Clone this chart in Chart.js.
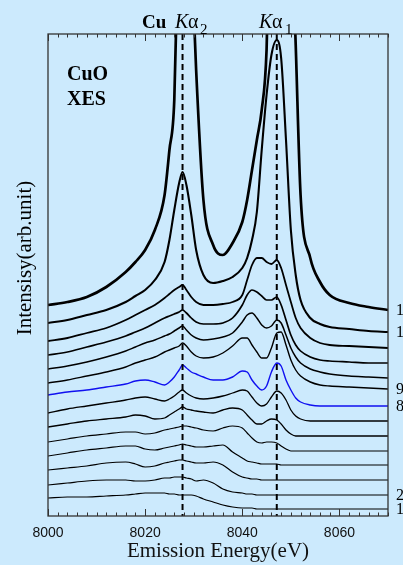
<!DOCTYPE html>
<html>
<head>
<meta charset="utf-8">
<script src="https://cdn.jsdelivr.net/npm/chart.js@4.4.1/dist/chart.umd.min.js"></script>
<style>
  html, body { margin: 0; padding: 0; background: #cceafd; }
  #wrap { width: 403px; height: 565px; }
</style>
</head>
<body>
<div id="wrap"><canvas id="xes" width="403" height="565"></canvas></div>
<script>
// emission energy grid (eV), shared by all spectra
const energy = [8000, 8004, 8008, 8012, 8016, 8018, 8020, 8022, 8024, 8025, 8026, 8027, 8027.7, 8028.5, 8029.5, 8030.5, 8032, 8034, 8036, 8038, 8040, 8041, 8042, 8043, 8044, 8045, 8046, 8047.1, 8048, 8049, 8050, 8051, 8052, 8054, 8056, 8058, 8062, 8066, 8070];

// stacked spectra, bottom (1) to top (14), intensity in arb. units incl. offset
const spec1  = [18, 19, 19, 20, 21, 22, 23, 23, 23, 22, 22, 21, 21, 21, 21, 20, 17, 14, 11, 9, 8, 8, 8, 7, 7, 7, 7, 7, 7, 7, 7, 7, 7, 7, 7, 7, 7, 7, 7];
const spec2  = [31, 33, 35, 36, 36, 35, 35, 36, 38, 38, 39, 39, 39, 38, 37, 35, 36, 33, 27, 24, 23, 22, 22, 21, 21, 21, 21, 21, 21, 21, 21, 21, 21, 21, 21, 21, 21, 21, 21];
const spec3  = [46, 48, 50, 53, 54, 52, 49, 50, 53, 54, 55, 56, 56, 55, 54, 53, 53, 54, 51, 44, 39, 38, 37, 37, 36, 36, 36, 36, 36, 36, 36, 36, 36, 36, 36, 36, 36, 36, 36];
const spec4  = [60, 63, 66, 68, 70, 70, 67, 66, 68, 69, 70, 71, 72, 71, 70, 69, 69, 70, 71, 64, 58, 55, 54, 53, 52, 52, 52, 52, 51, 51, 51, 51, 51, 51, 51, 51, 51, 51, 51];
const spec5  = [74, 77, 80, 82, 84, 84, 82, 83, 86, 87, 88, 89, 90, 90, 89, 88, 86, 85, 88, 90, 88, 83, 78, 74, 73, 74, 74, 73, 70, 67, 65, 65, 65, 65, 65, 65, 65, 65, 65];
const spec6  = [89, 92, 95, 97, 99, 101, 100, 97, 98, 101, 104, 107, 109, 107, 106, 105, 104, 103, 106, 108, 106, 101, 96, 92, 92, 95, 97, 96, 92, 86, 82, 80, 80, 80, 80, 80, 80, 80, 80];
const spec7  = [103, 107, 110, 113, 116, 118, 119, 117, 115, 117, 120, 124, 126, 123, 120, 118, 117, 118, 120, 123, 126, 125, 119, 113, 110, 112, 119, 125, 123, 116, 106, 100, 97, 95, 95, 95, 95, 95, 95];
const spec8  = [121, 124, 126, 129, 132, 135, 136, 134, 131, 134, 139, 146, 151, 148, 144, 142, 139, 136, 136, 139, 145, 144, 136, 130, 126, 130, 144, 153, 150, 136, 126, 118, 114, 111, 110, 110, 110, 110, 110];
const spec9  = [133, 136, 140, 144, 149, 153, 156, 159, 164, 166, 168, 170, 173, 170, 164, 160, 158, 159, 163, 170, 178, 178, 171, 164, 158, 158, 168, 183, 184, 171, 156, 146, 140, 134, 131, 130, 129, 128, 127];
const spec10 = [147, 150, 154, 159, 165, 169, 173, 176, 180, 182, 185, 188, 190, 186, 181, 178, 176, 177, 179, 183, 194, 201, 203, 198, 191, 188, 190, 196, 193, 181, 168, 159, 153, 147, 144, 142, 140, 139, 138];
const spec11 = [161, 164, 169, 174, 180, 184, 188, 193, 198, 200, 202, 204, 206, 203, 198, 194, 192, 192, 193, 198, 211, 221, 226, 224, 220, 216, 216, 219, 211, 196, 181, 171, 165, 159, 156, 155, 154, 153, 153];
const spec12 = [175, 178, 183, 188, 196, 201, 206, 211, 218, 222, 226, 229, 231, 226, 219, 214, 211, 211, 212, 214, 221, 236, 251, 258, 258, 254, 252, 256, 248, 231, 214, 198, 188, 178, 173, 171, 170, 169, 168];
const spec13 = [193, 196, 201, 206, 214, 220, 226, 236, 254, 276, 306, 333, 344, 331, 301, 266, 241, 233, 235, 239, 248, 258, 276, 304, 366, 421, 461, 476, 458, 376, 286, 241, 216, 198, 192, 189, 187, 185, 184];
const spec14 = [211, 214, 219, 229, 244, 254, 266, 286, 321, 366, 416, 616, 766, 666, 566, 446, 316, 271, 261, 273, 294, 316, 346, 376, 406, 466, 666, 1016, 916, 766, 616, 471, 321, 258, 234, 221, 213, 209, 206];

const spectra = [spec1, spec2, spec3, spec4, spec5, spec6, spec7, spec8, spec9, spec10, spec11, spec12, spec13, spec14];
const seriesNames = ["1", "2", "3", "4", "5", "6", "7", "8", "9", "10", "11", "12", "13", "14"];
const shownNames = ["1", "2", "8", "9", "13", "14"];
const lineEnergies = [8027.7, 8047.1];   // Cu Ka2, Ka1
const tickLabels = [8000, 8020, 8040, 8060];

// noisier top spectra look heavier in the original
const widths = [1.2, 1.2, 1.2, 1.2, 1.2, 1.3, 1.3, 1.4, 1.4, 1.5, 1.7, 1.8, 2.1, 2.7];

const datasets = spectra.map((vals, i) => ({
  label: seriesNames[i],
  data: energy.map((e, k) => ({ x: e, y: vals[k] })),
  borderColor: i === 7 ? "#1010f0" : "#000000",
  borderWidth: widths[i],
  pointRadius: 0,
  fill: false,
  cubicInterpolationMode: "monotone"
}));

const decor = {
  id: "decor",
  afterDatasetsDraw(chart) {
    const { ctx, chartArea: a, scales: { x } } = chart;
    ctx.save();
    // dashed Ka lines
    ctx.strokeStyle = "#000";
    ctx.lineWidth = 2;
    ctx.setLineDash([6, 4]);
    lineEnergies.forEach(e => {
      const px = x.getPixelForValue(e);
      ctx.beginPath();
      ctx.moveTo(px, a.top);
      ctx.lineTo(px, a.bottom);
      ctx.stroke();
    });
    ctx.setLineDash([]);
    // frame
    ctx.strokeStyle = "#333";
    ctx.lineWidth = 1.3;
    ctx.strokeRect(a.left, a.top, a.right - a.left, a.bottom - a.top);
    // inward ticks top and bottom
    ctx.lineWidth = 1;
    for (let e = 8000; e <= 8070; e += 2) {
      const px = Math.round(x.getPixelForValue(e)) + 0.5;
      const len = e % 20 === 0 ? 7 : 3.5;
      ctx.beginPath();
      ctx.moveTo(px, a.bottom);
      ctx.lineTo(px, a.bottom - len);
      ctx.moveTo(px, a.top);
      ctx.lineTo(px, a.top + len);
      ctx.stroke();
    }
    ctx.restore();
  },
  afterDraw(chart) {
    const { ctx, scales: { y } } = chart;
    ctx.save();
    ctx.fillStyle = "#000";
    ctx.textBaseline = "alphabetic";
    // peak labels
    ctx.font = 'bold 19px "Liberation Serif"';
    ctx.fillText("Cu", 142, 28);
    ctx.font = 'italic 20px "Liberation Serif"';
    ctx.fillText("K", 175, 28);
    ctx.font = '20px "Liberation Serif"';
    ctx.fillText("\u03b1", 188, 28);
    ctx.font = '15px "Liberation Serif"';
    ctx.fillText("2", 200, 34);
    ctx.font = 'italic 20px "Liberation Serif"';
    ctx.fillText("K", 259, 28);
    ctx.font = '20px "Liberation Serif"';
    ctx.fillText("\u03b1", 272, 28);
    ctx.font = '15px "Liberation Serif"';
    ctx.fillText("1", 285, 34);
    // sample label
    ctx.font = 'bold 20px "Liberation Serif"';
    ctx.fillText("CuO", 67, 80);
    ctx.fillText("XES", 67, 105);
    // spectrum numbers at right edge
    ctx.font = '16px "Liberation Serif"';
    ctx.textBaseline = "middle";
    spectra.forEach((vals, i) => {
      if (!shownNames.includes(seriesNames[i])) return;
      ctx.fillText(seriesNames[i], 396, y.getPixelForValue(vals[vals.length - 1]) + 1);
    });
    // y title
    ctx.translate(25, 258);
    ctx.rotate(-Math.PI / 2);
    ctx.textAlign = "center";
    ctx.font = '21px "Liberation Serif"';
    ctx.fillText("Intensisy(arb.unit)", 0, 0);
    ctx.restore();
  }
};

new Chart(document.getElementById("xes").getContext("2d"), {
  type: "line",
  data: { datasets },
  options: {
    responsive: false,
    animation: false,
    devicePixelRatio: 1,
    layout: { padding: { left: 48, right: 15, top: 34, bottom: 3.5 } },
    plugins: { legend: { display: false }, tooltip: { enabled: false } },
    scales: {
      x: {
        type: "linear",
        min: 8000,
        max: 8070,
        grid: { display: false, drawTicks: false, tickLength: 0 },
        border: { display: false },
        afterBuildTicks: axis => { axis.ticks = tickLabels.map(v => ({ value: v })); },
        ticks: {
          color: "#111",
          padding: 10,
          maxRotation: 0,
          callback: v => String(v),
          font: { family: "Liberation Sans", size: 14, lineHeight: 1 }
        },
        title: {
          display: true,
          text: "Emission Energy(eV)",
          color: "#111",
          padding: { top: -9.5, bottom: 0 },
          font: { family: "Liberation Serif", size: 21, lineHeight: 1 }
        }
      },
      y: { display: false, min: 0, max: 482 }
    }
  },
  plugins: [decor]
});
</script>
</body>
</html>
